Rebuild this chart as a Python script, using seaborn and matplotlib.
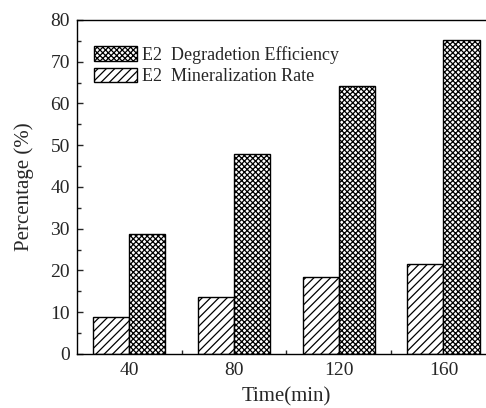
import numpy as np
import pandas as pd
import matplotlib
matplotlib.use("Agg")
import matplotlib.pyplot as plt
import seaborn as sns
from matplotlib.ticker import MultipleLocator, FixedLocator

# data
times = ["40", "80", "120", "160"]
mineralization = [8.9, 13.7, 18.5, 21.6]
degradation = [28.8, 47.9, 64.3, 75.2]
series = ["E2  Mineralization Rate", "E2  Degradetion Efficiency"]

sns.set_style("ticks")
plt.rcParams['font.family'] = ['Liberation Serif', 'DejaVu Serif']
plt.rcParams['hatch.linewidth'] = 0.9
plt.rcParams['axes.linewidth'] = 1.0

df = pd.DataFrame({
    "time": times * 2,
    "value": mineralization + degradation,
    "series": [series[0]] * len(times) + [series[1]] * len(times),
})

fig = plt.figure(figsize=(4.86, 4.08), dpi=100)
# right edge of the axes falls outside the figure, as in the cropped reference
ax = fig.add_axes([0.1584, 0.1324, 0.8617, 0.8186])

sns.barplot(data=df, x="time", y="value", hue="series", hue_order=series,
            order=times, palette=["white", "white"], edgecolor="black",
            linewidth=1.0, width=0.69, ax=ax, legend=False)

hatches = ["////", "xxxxxx"]
for cont, h in zip(ax.containers, hatches):
    for bar in cont:
        bar.set_hatch(h)
        bar.set_edgecolor("black")

ax.set_xlim(-0.5, 3.5)
ax.set_ylim(0, 80)
ax.yaxis.set_major_locator(MultipleLocator(10))
ax.yaxis.set_minor_locator(MultipleLocator(5))
ax.xaxis.set_minor_locator(FixedLocator([0.5, 1.5, 2.5]))
ax.tick_params(axis="both", which="major", direction="in", length=4,
               labelsize=14, width=1.0)
ax.tick_params(axis="both", which="minor", direction="in", length=3, width=1.0)
ax.tick_params(axis="x", pad=6)
ax.tick_params(axis="y", pad=5)

ax.set_xlabel("Time(min)", fontsize=15, labelpad=6)
ax.set_ylabel("Percentage (%)", fontsize=15, labelpad=12)

for s in ["top", "left", "bottom", "right"]:
    ax.spines[s].set_visible(True)
    ax.spines[s].set_color("black")

handles = [ax.containers[1][0], ax.containers[0][0]]
labels = [series[1], series[0]]
ax.legend(handles, labels, loc="upper left", bbox_to_anchor=(0.04, 0.922),
          frameon=False, fontsize=13, handlelength=2.4, handleheight=0.85,
          handletextpad=0.3, labelspacing=0.2, borderaxespad=0.0,
          borderpad=0.0)

fig.savefig("out.png", dpi=100)
